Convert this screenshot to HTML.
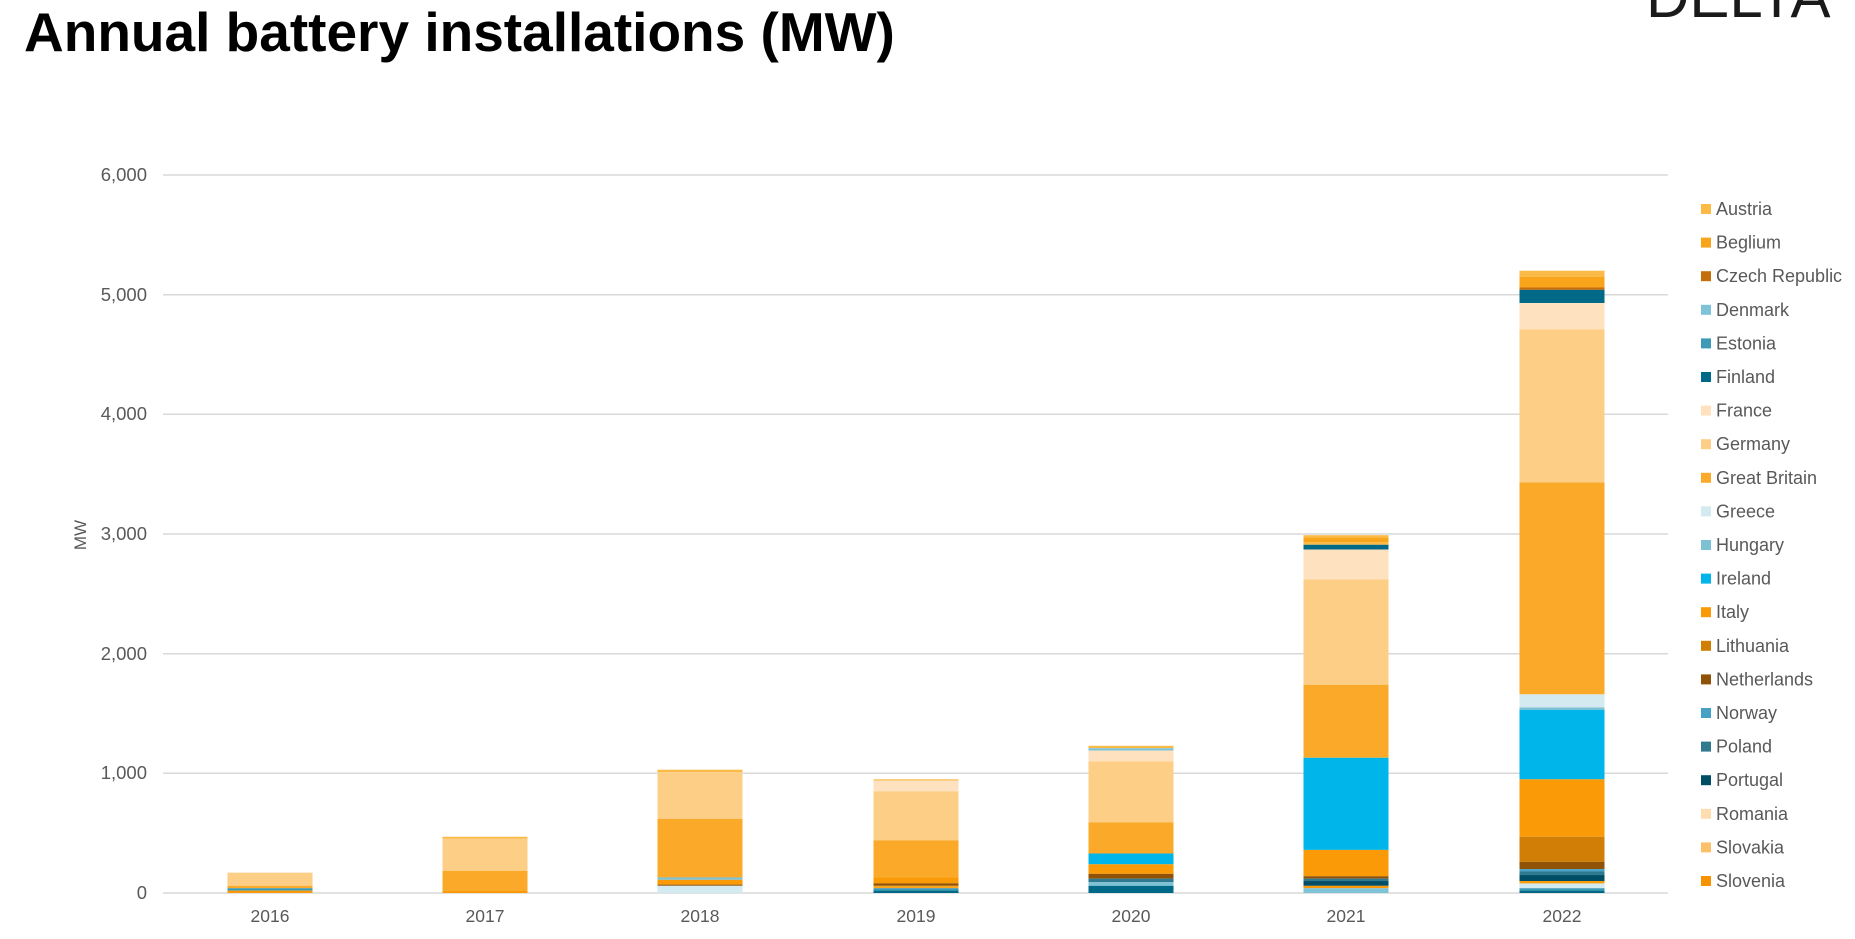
<!DOCTYPE html>
<html><head><meta charset="utf-8"><style>
html,body{margin:0;padding:0;background:#fff;width:1855px;height:939px;overflow:hidden}
svg{display:block}
text{font-family:"Liberation Sans",sans-serif}
</style></head><body>
<svg id="s" width="1855" height="939" viewBox="0 0 1855 939" xmlns="http://www.w3.org/2000/svg">
<text x="24" y="51" font-size="55" font-weight="bold" fill="#000">Annual battery installations (MW)</text>
<text x="1646" y="17" font-size="60" fill="#1a1a1a">DELTA</text>
<g stroke="#d9d9d9" stroke-width="1.5">
<line x1="163" x2="1668" y1="175" y2="175"/>
<line x1="163" x2="1668" y1="294.7" y2="294.7"/>
<line x1="163" x2="1668" y1="414.3" y2="414.3"/>
<line x1="163" x2="1668" y1="534" y2="534"/>
<line x1="163" x2="1668" y1="653.7" y2="653.7"/>
<line x1="163" x2="1668" y1="773.3" y2="773.3"/>
<line x1="163" x2="1668" y1="893" y2="893"/>
</g>
<g font-size="18.5" fill="#595959" text-anchor="end">
<text x="147" y="181">6,000</text>
<text x="147" y="301">5,000</text>
<text x="147" y="420">4,000</text>
<text x="147" y="540">3,000</text>
<text x="147" y="660">2,000</text>
<text x="147" y="779">1,000</text>
<text x="147" y="899">0</text>
</g>
<text transform="translate(86,535) rotate(-90)" font-size="17" fill="#595959" text-anchor="middle">MW</text>
<g font-size="17.5" fill="#595959" text-anchor="middle">
<text x="270" y="922">2016</text>
<text x="485" y="922">2017</text>
<text x="700" y="922">2018</text>
<text x="916" y="922">2019</text>
<text x="1131" y="922">2020</text>
<text x="1346" y="922">2021</text>
<text x="1562" y="922">2022</text>
</g>
<g id="bars"></g>
<g id="leg" font-size="18" fill="#595959"></g>
</svg>
<script>
var C={Austria:"#FBB946",Beglium:"#F9A51B","Czech Republic":"#C46F0B",Denmark:"#7EC3D8",Estonia:"#3C9AB7",Finland:"#006987",France:"#FEE2C0",Germany:"#FDCE85","Great Britain":"#FBA929",Greece:"#D3EAF1",Hungary:"#7DC1D4",Ireland:"#00B5EA",Italy:"#F99A06",Lithuania:"#D07E05",Netherlands:"#8F5206",Norway:"#46A1C4",Poland:"#2F7A8E",Portugal:"#004D66",Romania:"#FEDDB1",Slovakia:"#FDC06A",Slovenia:"#F79200"};
var names=Object.keys(C);
var NS="http://www.w3.org/2000/svg";
var leg=document.getElementById("leg");
names.forEach(function(n,i){var y=209+i*33.6;
var r=document.createElementNS(NS,"rect");r.setAttribute("x",1701);r.setAttribute("y",y-5);r.setAttribute("width",10);r.setAttribute("height",10);r.setAttribute("fill",C[n]);leg.appendChild(r);
var t=document.createElementNS(NS,"text");t.setAttribute("x",1716);t.setAttribute("y",y+6);t.textContent=n;leg.appendChild(t);});
var D=[
[270,[[170,"#FDCE85"],[60,"#FBA929"],[40,"#3C9AB7"],[20,"#F99A06"]]],
[485,[[470,"#FBB946"],[455,"#FDCE85"],[185,"#FBA929"],[20,"#F99A06"]]],
[700,[[1030,"#FBB946"],[1010,"#FDCE85"],[620,"#FBA929"],[130,"#7DC1D4"],[110,"#F99A06"],[70,"#8F5206"],[60,"#D3EAF1"]]],
[916,[[950,"#FBB946"],[940,"#FEE2C0"],[850,"#FDCE85"],[440,"#FBA929"],[130,"#F99A06"],[80,"#8F5206"],[60,"#F9A51B"],[40,"#3C9AB7"],[20,"#006987"]]],
[1131,[[1230,"#FBB946"],[1210,"#7EC3D8"],[1190,"#FEE2C0"],[1100,"#FDCE85"],[590,"#FBA929"],[330,"#00B5EA"],[240,"#F99A06"],[160,"#8F5206"],[120,"#2F7A8E"],[90,"#7DC1D4"],[60,"#006987"]]],
[1346,[[2990,"#FBB946"],[2970,"#F9A51B"],[2930,"#FBB946"],[2910,"#006987"],[2870,"#FEE2C0"],[2620,"#FDCE85"],[1740,"#FBA929"],[1130,"#00B5EA"],[360,"#F99A06"],[140,"#8F5206"],[120,"#2F7A8E"],[100,"#004D66"],[60,"#F99A06"],[40,"#7EC3D8"]]],
[1562,[[5200,"#FBB946"],[5150,"#F9A51B"],[5060,"#C46F0B"],[5040,"#006987"],[4930,"#FEE2C0"],[4710,"#FDCE85"],[3430,"#FBA929"],[1660,"#D3EAF1"],[1550,"#7DC1D4"],[1530,"#00B5EA"],[950,"#F99A06"],[470,"#D07E05"],[260,"#8F5206"],[200,"#46A1C4"],[180,"#2F7A8E"],[150,"#004D66"],[100,"#F99A06"],[80,"#D3EAF1"],[40,"#3C9AB7"],[20,"#006987"]]]
];
var g=document.getElementById("bars");
function Y(v){return 893-v*0.11967;}
D.forEach(function(b){var s=b[1];for(var i=0;i<s.length;i++){var top=s[i][0],bot=i+1<s.length?s[i+1][0]:0;
var r=document.createElementNS(NS,"rect");r.setAttribute("x",b[0]-42.5);r.setAttribute("width",85);r.setAttribute("y",Y(top));r.setAttribute("height",Y(bot)-Y(top));r.setAttribute("fill",s[i][1]);g.appendChild(r);}});
</script>
</body></html>
